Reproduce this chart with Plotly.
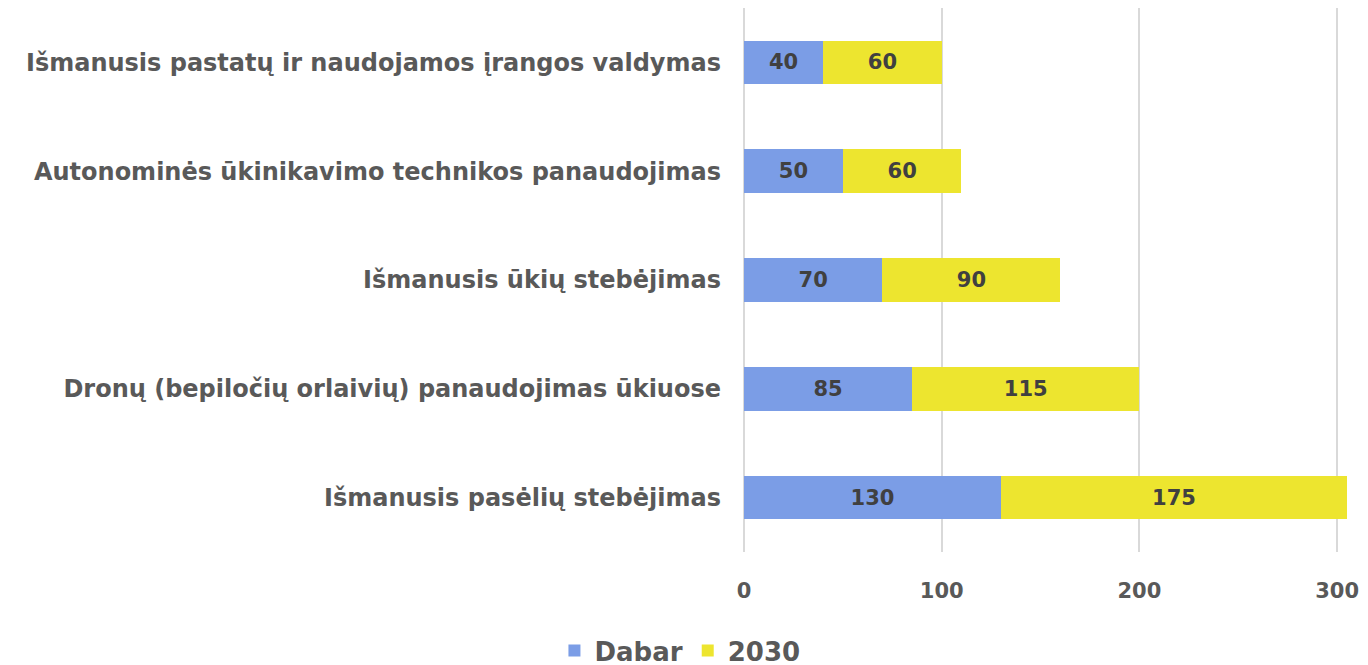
import plotly.graph_objects as go

categories = [
    "Išmanusis pasėlių stebėjimas",
    "Dronų (bepiločių orlaivių) panaudojimas ūkiuose",
    "Išmanusis ūkių stebėjimas",
    "Autonominės ūkinikavimo technikos panaudojimas",
    "Išmanusis pastatų ir naudojamos įrangos valdymas",
]
dabar = [130, 85, 70, 50, 40]
y2030 = [175, 115, 90, 60, 60]
series_names = ["Dabar", "2030"]
tick_vals = [0, 100, 200, 300]

label_font = dict(family="DejaVu Sans", size=21, color="#404040", weight="bold")

fig = go.Figure()
fig.add_trace(go.Bar(
    y=categories, x=dabar, name=series_names[0], orientation="h",
    marker=dict(color="#7b9de6", line=dict(width=0)),
    text=dabar, textposition="inside", insidetextanchor="middle",
    textfont=label_font, textangle=0,
))
fig.add_trace(go.Bar(
    y=categories, x=y2030, name=series_names[1], orientation="h",
    marker=dict(color="#ede52f", line=dict(width=0)),
    text=y2030, textposition="inside", insidetextanchor="middle",
    textfont=label_font, textangle=0,
))

fig.update_layout(
    barmode="stack",
    bargap=0.6,
    width=1352, height=666,
    margin=dict(l=736, r=10, t=0, b=122),
    plot_bgcolor="white", paper_bgcolor="white",
    legend=dict(
        orientation="h", xref="container", x=0.497, xanchor="center",
        yref="container", y=0, yanchor="bottom",
        font=dict(family="DejaVu Sans", size=26, color="#595959", weight="bold"),
        traceorder="normal",
    ),
    xaxis=dict(
        range=[0, 306.5], tickvals=tick_vals,
        showgrid=True, gridcolor="#d9d9d9", gridwidth=2,
        zeroline=True, zerolinecolor="#d9d9d9", zerolinewidth=2,
        tickfont=dict(family="DejaVu Sans", size=21, color="#595959", weight="bold"),
        ticks="", ticklabelstandoff=24, fixedrange=True,
    ),
    yaxis=dict(
        automargin=False,
        tickfont=dict(family="DejaVu Sans", size=24, color="#595959", weight="bold"),
        ticks="", ticklabelstandoff=22,
    ),
)
fig.write_html("out.html")
